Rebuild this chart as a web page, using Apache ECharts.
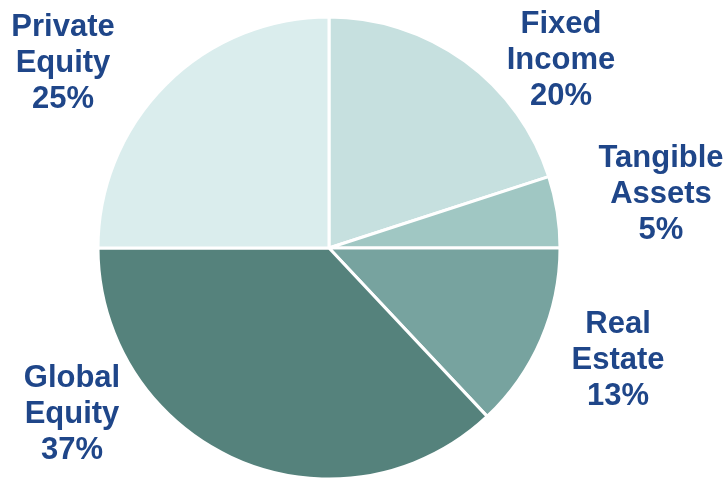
<!DOCTYPE html>
<html>
<head>
<meta charset="utf-8">
<script src="https://cdn.jsdelivr.net/npm/echarts@6/dist/echarts.min.js"></script>
<style>
  html, body { margin: 0; padding: 0; background: #fff; }
  #chart1 { width: 727px; height: 478px; }
</style>
</head>
<body>
<div id="chart1"></div>
<script>
// asset allocation
const Data_Names = ['Fixed\nIncome', 'Tangible\nAssets', 'Real\nEstate', 'Global\nEquity', 'Private\nEquity'];
const Data_Values = [20, 5, 13, 37, 25];
const Data_Colors = ['#c6e0df', '#a0c7c3', '#77a39f', '#55827c', '#daeded'];

// label centre points
const labelPos = [[561, 60], [661, 194], [618, 360], [72, 414], [63, 63]];

function renderChart1() {
  const dom = document.getElementById("chart1");
  const chart = echarts.init(dom);
  const option = {
    animation: false,
    series: [
      {
        type: 'pie',
        center: [329, 248],
        radius: [0, 231],
        startAngle: 90,
        clockwise: true,
        avoidLabelOverlap: false,
        itemStyle: {
          borderColor: '#ffffff',
          borderWidth: 3,
        },
        label: {
          show: true,
          position: 'outside',
          formatter: '{b}\n{c}%',
          color: '#1f4689',
          fontFamily: 'Liberation Sans, Arial, sans-serif',
          fontWeight: 'bold',
          fontSize: 31,
          lineHeight: 36,
          align: 'center',
          overflow: 'none',
        },
        labelLine: { show: false },
        labelLayout: function (p) {
          const pos = labelPos[p.dataIndex];
          return { x: pos[0], y: pos[1], align: 'center', verticalAlign: 'middle' };
        },
        emphasis: { disabled: true },
        data: Data_Values.map((v, i) => ({
          name: Data_Names[i],
          value: v,
          itemStyle: { color: Data_Colors[i] },
        })),
      }
    ]
  };
  chart.setOption(option, true);
}
renderChart1();
</script>
</body>
</html>
